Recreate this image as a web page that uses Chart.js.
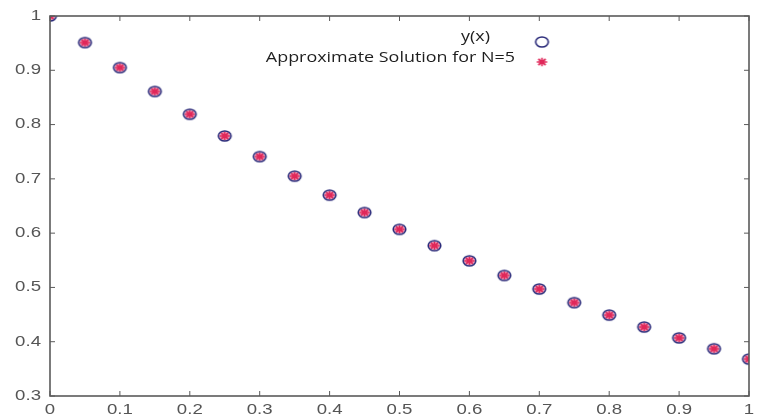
<!DOCTYPE html>
<html>
<head>
<meta charset="utf-8">
<script src="https://cdn.jsdelivr.net/npm/chart.js@4.4.1/dist/chart.umd.min.js"></script>
<style>
  html, body { margin: 0; padding: 0; background: #fff; }
  #wrap { width: 757px; height: 418px; position: relative; }
</style>
</head>
<body>
<div id="wrap"><canvas id="grafico"></canvas></div>
<script>
// Dados
const xValores = [0, 0.05, 0.1, 0.15, 0.2, 0.25, 0.3, 0.35, 0.4, 0.45, 0.5,
  0.55, 0.6, 0.65, 0.7, 0.75, 0.8, 0.85, 0.9, 0.95, 1];
const yExata = [1, 0.951, 0.905, 0.861, 0.819, 0.779, 0.741, 0.705, 0.670, 0.638, 0.607,
  0.577, 0.549, 0.522, 0.497, 0.472, 0.449, 0.427, 0.407, 0.387, 0.368];
const yAprox = [1, 0.951, 0.905, 0.861, 0.819, 0.779, 0.741, 0.705, 0.670, 0.638, 0.607,
  0.577, 0.549, 0.522, 0.497, 0.472, 0.449, 0.427, 0.407, 0.387, 0.368];
const ticksX = [0, 0.1, 0.2, 0.3, 0.4, 0.5, 0.6, 0.7, 0.8, 0.9, 1];
const ticksY = [0.3, 0.4, 0.5, 0.6, 0.7, 0.8, 0.9, 1];
const legendas = ['y(x)', 'Approximate Solution for N=5'];

const corEixo = '#5a5a5a';
const esticar = 1.33; // a figura original está esticada na horizontal

// Marcadores (elipse azul e asterisco vermelho)
function marcadorCirculo() {
  const c = document.createElement('canvas');
  c.width = 17; c.height = 14;
  const g = c.getContext('2d');
  g.strokeStyle = '#2b2b7a';
  g.lineWidth = 1.6;
  g.beginPath();
  g.ellipse(8.5, 7, 6.3, 5, 0, 0, Math.PI * 2);
  g.stroke();
  return c;
}
function marcadorEstrela(fundo) {
  const c = document.createElement('canvas');
  c.width = 17; c.height = 14;
  const g = c.getContext('2d');
  if (fundo) {
    g.fillStyle = 'rgba(232, 110, 150, 0.6)';
    g.beginPath();
    g.ellipse(8.5, 7, 5.6, 4.4, 0, 0, Math.PI * 2);
    g.fill();
  }
  g.strokeStyle = '#e0285a';
  g.lineWidth = 1.7;
  g.beginPath();
  for (let k = 0; k < 4; k++) {
    const ang = k * Math.PI / 4;
    const dx = Math.cos(ang) * 5.2, dy = Math.sin(ang) * 4.2;
    g.moveTo(8.5 - dx, 7 - dy);
    g.lineTo(8.5 + dx, 7 + dy);
  }
  g.stroke();
  return c;
}
const imgCirculo = marcadorCirculo();
const imgEstrela = marcadorEstrela(true);
const imgEstrelaLegenda = marcadorEstrela(false);

function textoEsticado(ctx, txt, x, y, alinhar, fator) {
  ctx.save();
  ctx.translate(x, y);
  ctx.scale(fator, 1);
  ctx.textAlign = alinhar;
  ctx.fillText(txt, 0, 0);
  ctx.restore();
}

// Moldura com marcas para dentro, rótulos dos eixos e legenda
const molduraPlugin = {
  id: 'moldura',
  afterDatasetsDraw(chart) {
    const { ctx, chartArea: a, scales } = chart;
    ctx.save();
    ctx.strokeStyle = corEixo;
    ctx.lineWidth = 1.6;
    ctx.strokeRect(a.left, a.top, a.right - a.left, a.bottom - a.top);
    ctx.lineWidth = 1;
    ticksX.forEach(v => {
      const px = scales.x.getPixelForValue(v);
      ctx.beginPath();
      ctx.moveTo(px, a.bottom); ctx.lineTo(px, a.bottom - 5);
      ctx.moveTo(px, a.top); ctx.lineTo(px, a.top + 5);
      ctx.stroke();
    });
    ticksY.forEach(v => {
      const py = scales.y.getPixelForValue(v);
      ctx.beginPath();
      ctx.moveTo(a.left, py); ctx.lineTo(a.left + 5, py);
      ctx.moveTo(a.right, py); ctx.lineTo(a.right - 5, py);
      ctx.stroke();
    });

    // rótulos
    ctx.fillStyle = '#555';
    ctx.font = '14px "Liberation Sans", Arial, sans-serif';
    ctx.textBaseline = 'middle';
    ticksX.forEach(v => {
      textoEsticado(ctx, String(v), scales.x.getPixelForValue(v), a.bottom + 14, 'center', esticar);
    });
    ticksY.forEach(v => {
      textoEsticado(ctx, String(v), a.left - 9, scales.y.getPixelForValue(v), 'right', esticar);
    });

    // legenda
    ctx.font = '14px "Open Sans", "Liberation Sans", sans-serif';
    ctx.fillStyle = '#1e1e1e';
    textoEsticado(ctx, legendas[0], 490, 37, 'right', 1.28);
    textoEsticado(ctx, legendas[1], 515, 58, 'right', 1.28);
    ctx.drawImage(imgCirculo, 542 - 8.5, 42 - 7);
    ctx.drawImage(imgEstrelaLegenda, 542 - 8.5, 62 - 7);
    ctx.restore();
  }
};

const ctx = document.getElementById('grafico').getContext('2d');
const grafico = new Chart(ctx, {
  type: 'scatter',
  data: {
    datasets: [
      {
        label: legendas[0],
        data: xValores.map((x, i) => ({ x, y: yExata[i] })),
        pointStyle: imgCirculo,
        pointRadius: 7,
        showLine: false
      },
      {
        label: legendas[1],
        data: xValores.map((x, i) => ({ x, y: yAprox[i] })),
        pointStyle: imgEstrela,
        pointRadius: 7,
        showLine: false
      }
    ]
  },
  plugins: [molduraPlugin],
  options: {
    responsive: true,
    maintainAspectRatio: false,
    animation: false,
    layout: { padding: { top: 16, right: 2, left: 0, bottom: 0 } },
    plugins: { legend: { display: false }, tooltip: { enabled: false } },
    scales: {
      x: {
        type: 'linear',
        min: 0, max: 1,
        afterFit: s => { s.height = 22; s.paddingLeft = 0; s.paddingRight = 0; },
        grid: { display: false },
        border: { display: false },
        ticks: { display: false }
      },
      y: {
        min: 0.3, max: 1,
        afterFit: s => { s.width = 50; s.paddingTop = 0; s.paddingBottom = 0; },
        grid: { display: false },
        border: { display: false },
        ticks: { display: false }
      }
    }
  }
});
</script>
</body>
</html>
